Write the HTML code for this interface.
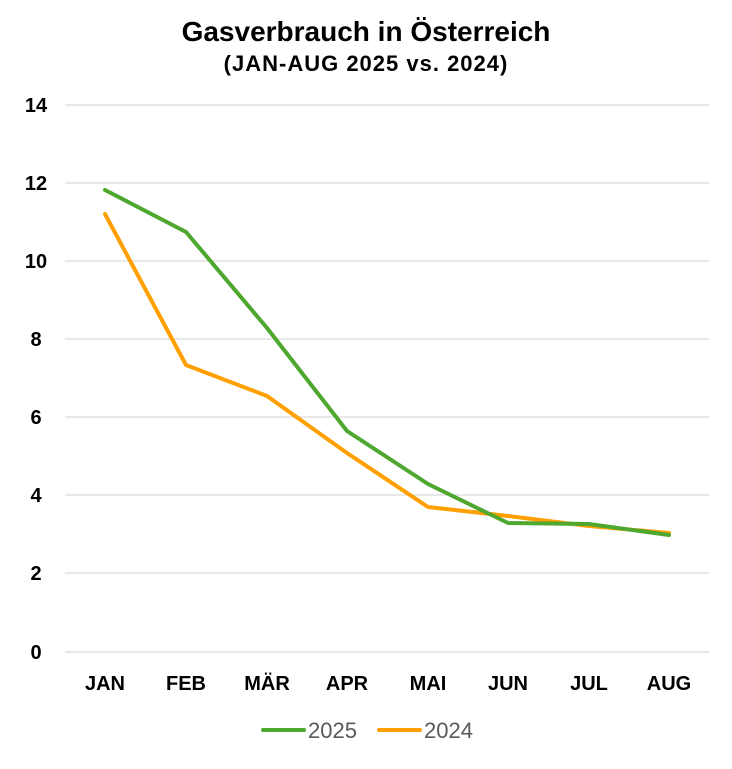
<!DOCTYPE html>
<html><head><meta charset="utf-8"><style>
body{margin:0;background:#fff;}
</style></head><body>
<svg width="732" height="764" xmlns="http://www.w3.org/2000/svg" font-family="Liberation Sans, sans-serif">
<rect width="732" height="764" fill="#fff"/>
<text x="366" y="41" text-anchor="middle" font-size="28" font-weight="bold" fill="#000">Gasverbrauch in Österreich</text>
<text x="366" y="71" text-anchor="middle" font-size="22" font-weight="bold" fill="#000" letter-spacing="1">(JAN-AUG 2025 vs. 2024)</text>
<g stroke="#d9d9d9" stroke-width="1.3">
<line x1="65" x2="709" y1="105" y2="105"/><line x1="65" x2="709" y1="183" y2="183"/>
<line x1="65" x2="709" y1="261" y2="261"/><line x1="65" x2="709" y1="339" y2="339"/>
<line x1="65" x2="709" y1="417" y2="417"/><line x1="65" x2="709" y1="495" y2="495"/>
<line x1="65" x2="709" y1="573" y2="573"/><line x1="65" x2="709" y1="652" y2="652"/>
</g>
<g font-size="20" font-weight="bold" fill="#000" text-anchor="middle">
<text x="36" y="112">14</text><text x="36" y="190">12</text><text x="36" y="268">10</text>
<text x="36" y="346">8</text><text x="36" y="424">6</text><text x="36" y="502">4</text>
<text x="36" y="580">2</text><text x="36" y="659">0</text>
<text x="105" y="690">JAN</text><text x="186" y="690">FEB</text><text x="267" y="690">MÄR</text>
<text x="347" y="690">APR</text><text x="428" y="690">MAI</text><text x="508" y="690">JUN</text>
<text x="589" y="690">JUL</text><text x="669" y="690">AUG</text>
</g>
<polyline fill="none" stroke="#ffa000" stroke-width="4" stroke-linejoin="round" stroke-linecap="round"
points="105,214 186,365 267,396 347,453 428,507 508,516 589,526 669,533"/>
<polyline fill="none" stroke="#4ea72e" stroke-width="4" stroke-linejoin="round" stroke-linecap="round"
points="105,190 186,232 267,328 347,431 428,484 508,523 589,524 669,535"/>
<line x1="263" x2="304" y1="730" y2="730" stroke="#4ea72e" stroke-width="4" stroke-linecap="round"/>
<text x="308" y="738" font-size="22" fill="#595959">2025</text>
<line x1="379" x2="420" y1="730" y2="730" stroke="#ffa000" stroke-width="4" stroke-linecap="round"/>
<text x="424" y="738" font-size="22" fill="#595959">2024</text>
</svg>
</body></html>
